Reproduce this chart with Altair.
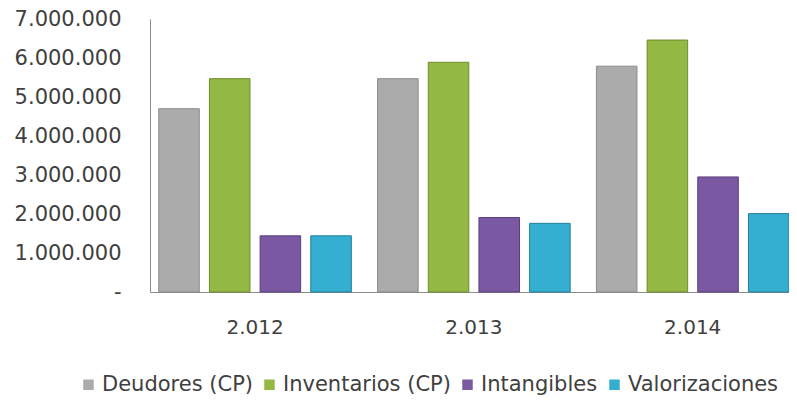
import altair as alt
import pandas as pd

years = ["2.012", "2.013", "2.014"]
series = ["Deudores (CP)", "Inventarios (CP)", "Intangibles", "Valorizaciones"]
deudores = [4700000, 5470000, 5790000]
inventarios = [5470000, 5890000, 6460000]
intangibles = [1440000, 1910000, 2950000]
valorizaciones = [1440000, 1760000, 2010000]
y_ticks = [0, 1000000, 2000000, 3000000, 4000000, 5000000, 6000000, 7000000]

colors = ["#ABABAB", "#93B843", "#7A58A2", "#34AFD2"]
strokes = ["#8C8C8C", "#6F8C30", "#5A3F7D", "#237F99"]

rows = []
for name, vals in zip(series, [deudores, inventarios, intangibles, valorizaciones]):
    for yr, v in zip(years, vals):
        rows.append({"year": yr, "serie": name, "value": v})
df = pd.DataFrame(rows)

FONT = "DejaVu Sans"
TXT = "#404040"

label_expr = ("datum.value == 0 ? '-\u00a0\u00a0\u00a0' : "
              "replace(replace(format(datum.value, ','), ',', '.'), ',', '.')")

chart = alt.Chart(df).mark_bar(strokeWidth=1).encode(
    x=alt.X("year:N", sort=years, title=None,
            scale=alt.Scale(paddingInner=0.12, paddingOuter=0.02, align=1),
            axis=alt.Axis(labelAngle=0, ticks=False, domainColor="#8C8C8C",
                          labelFont=FONT, labelFontSize=20, labelColor=TXT,
                          labelPadding=25)),
    xOffset=alt.XOffset("serie:N", sort=series,
                        scale=alt.Scale(paddingInner=0.2, paddingOuter=0)),
    y=alt.Y("value:Q", title=None,
            scale=alt.Scale(domain=[0, 7000000], nice=False),
            axis=alt.Axis(values=y_ticks, labelExpr=label_expr, grid=False,
                          ticks=False, domainColor="#8C8C8C",
                          labelFont=FONT, labelFontSize=21, labelColor=TXT,
                          labelPadding=29)),
    color=alt.Color("serie:N", sort=series,
                    scale=alt.Scale(domain=series, range=colors),
                    legend=alt.Legend(orient="none", legendX=-72, legendY=355,
                                      direction="horizontal", title=None,
                                      symbolType="square", symbolSize=110,
                                      symbolStrokeWidth=0, labelFont=FONT,
                                      labelFontSize=21, labelColor=TXT,
                                      labelLimit=400, columnPadding=6,
                                      labelOffset=3, padding=0)),
    stroke=alt.Stroke("serie:N", sort=series,
                      scale=alt.Scale(domain=series, range=strokes),
                      legend=None),
).properties(
    width=639,
    height=273,
    autosize=alt.AutoSizeParams(type="none"),
    padding={"left": 142, "top": 11, "right": 0, "bottom": 103},
).configure_view(stroke=None)

chart.save("out.html", embed_options={"renderer": "svg", "actions": False})
